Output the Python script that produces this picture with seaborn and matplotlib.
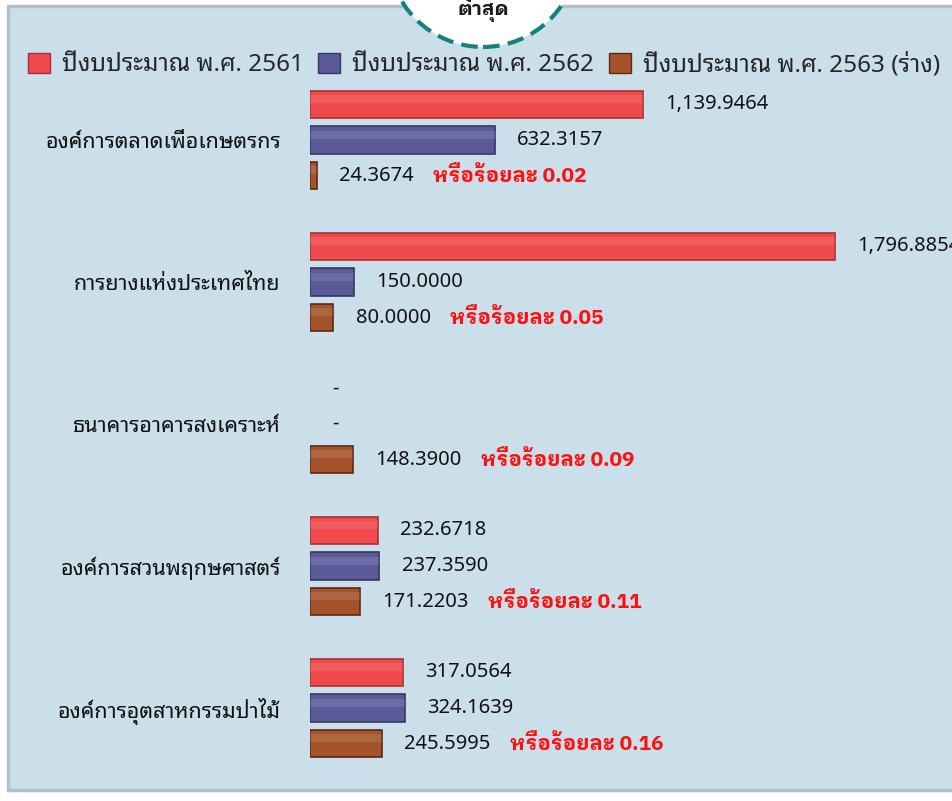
import matplotlib
matplotlib.use('Agg')
import matplotlib.pyplot as plt
from matplotlib.patches import Rectangle, Ellipse
import seaborn as sns
import pandas as pd

# ---------------- ข้อมูล ----------------
agencies = [
    'องค์การตลาดเพื่อเกษตรกร',
    'การยางแห่งประเทศไทย',
    'ธนาคารอาคารสงเคราะห์',
    'องค์การสวนพฤกษศาสตร์',
    'องค์การอุตสาหกรรมป่าไม้',
]
years = ['ปีงบประมาณ พ.ศ. 2561', 'ปีงบประมาณ พ.ศ. 2562', 'ปีงบประมาณ พ.ศ. 2563 (ร่าง)']
budget_2561 = [1139.9464, 1796.8854, 0, 232.6718, 317.0564]
budget_2562 = [632.3157, 150.0000, 0, 237.3590, 324.1639]
budget_2563 = [24.3674, 80.0000, 148.3900, 171.2203, 245.5995]
percent_2563 = ['0.02', '0.05', '0.09', '0.11', '0.16']

colors = ['#f04a4c', '#5a5a98', '#a4532b']
edges = ['#a83034', '#36365e', '#5c2a12']

df = pd.DataFrame({
    'agency': agencies * 3,
    'year': [y for y in years for _ in agencies],
    'value': budget_2561 + budget_2562 + budget_2563,
})

sns.set_style('white')
plt.rcParams['font.family'] = ['Noto Sans Thai Looped', 'DejaVu Sans']

W, H = 952, 801
fig = plt.figure(figsize=(W / 100, H / 100), dpi=100)
fig.patch.set_facecolor('white')

# พื้นหลังกรอบสีฟ้า
fig.patches.append(Rectangle((8 / W, 11 / H), 1.0, 1 - 17 / H, transform=fig.transFigure,
                             facecolor='#cbdfeb', edgecolor='#b4c0c8', linewidth=2.5, zorder=-1))

ax = fig.add_axes([310 / W, 22 / H, 1 - 310 / W, 710 / H])
ax.set_facecolor('none')
ax.set_zorder(1)

sns.barplot(data=df, y='agency', x='value', hue='year', orient='h', palette=colors,
            saturation=1, width=0.754, gap=0.24, ax=ax, legend=True)

# ขอบแท่ง + แถบสว่างด้านบนให้ดูนูน
for cont, ec in zip(ax.containers, edges):
    for p in cont:
        if p.get_width() == 0:
            p.set_linewidth(0)
            continue
        p.set_edgecolor(ec)
        p.set_linewidth(1.2)
        hl = Rectangle((p.get_x(), p.get_y() + p.get_height() * 0.15), p.get_width(),
                       p.get_height() * 0.3, facecolor='white', alpha=0.11,
                       linewidth=0, zorder=p.get_zorder() + 0.1)
        ax.add_patch(hl)

ax.set_xlim(0, 642 / 0.2921)
ax.set_ylim(4.5, -0.5)
ax.set_xlabel('')
ax.set_ylabel('')
ax.set_xticks([])
ax.tick_params(axis='y', length=0, pad=21, labelsize=15.5, labelcolor='#111111')
for s in ax.spines.values():
    s.set_visible(False)

# ค่าตัวเลขท้ายแท่ง
series = [budget_2561, budget_2562, budget_2563]
brown_labels = None
for i, (cont, vals) in enumerate(zip(ax.containers, series)):
    labels = ['-' if v == 0 else f'{v:,.4f}' for v in vals]
    txts = ax.bar_label(cont, labels=labels, padding=16, fontsize=14.5, color='#111111')
    if i == 2:
        brown_labels = txts

for t, pct in zip(brown_labels, percent_2563):
    ax.annotate(f'หรือร้อยละ {pct}', xy=(1, 0.5), xycoords=t, xytext=(14, 0),
                textcoords='offset points', va='center', ha='left',
                color='#ff1010', fontsize=15, fontweight='bold',
                family=['IBM Plex Sans Thai Looped', 'DejaVu Sans'])

# คำอธิบาย
handles, labels = ax.get_legend_handles_labels()
ax.get_legend().remove()
for h, ec in zip(handles, edges):
    h.set_edgecolor(ec)
fig.legend(handles, labels, loc='center left', bbox_to_anchor=(18 / W, 1 - 65 / H), ncol=3,
           frameon=False, fontsize=17.5, handlelength=0.9, handleheight=0.9,
           handletextpad=0.5, columnspacing=0.6, borderaxespad=0)

# วงกลมเส้นประด้านบน
fig.patches.append(Ellipse((483 / W, 1 + 48 / H), 190 / W, 190 / H, transform=fig.transFigure,
                           facecolor='white', edgecolor='#17807e', linewidth=3,
                           linestyle=(0, (4, 2)), zorder=5))
fig.text(483 / W, 1 - 10 / H, 'ต่ำสุด', ha='center', va='center', fontsize=14,
         fontweight='bold', color='#1a1a1a', zorder=6,
         family=['IBM Plex Sans Thai Looped', 'DejaVu Sans'])

fig.savefig('out.png', dpi=100)
